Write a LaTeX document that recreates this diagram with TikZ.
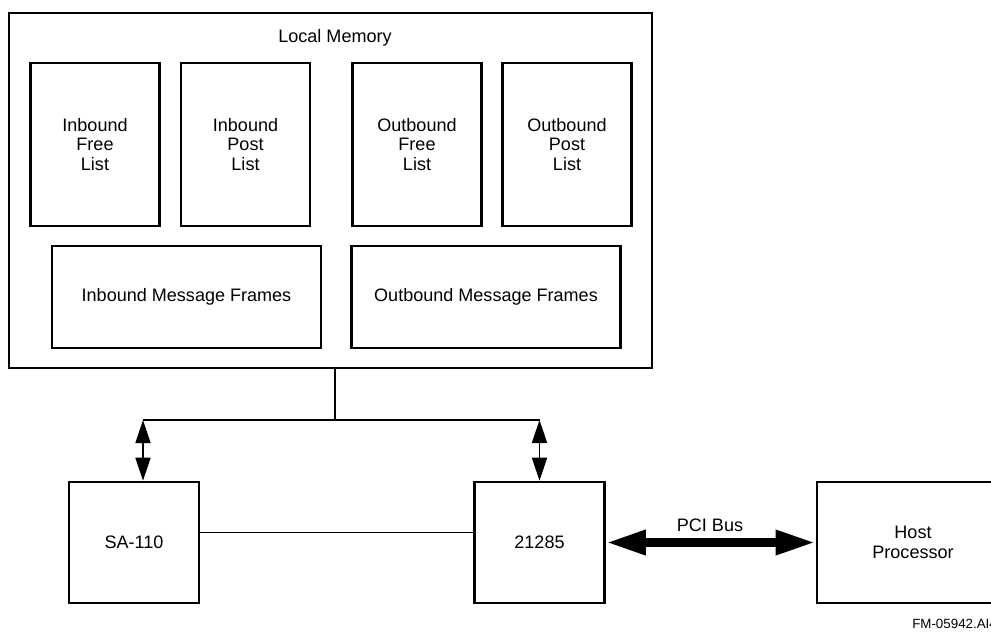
\documentclass[tikz,border=0pt]{standalone}
\usepackage{fontspec}
\setmainfont{Liberation Sans}
\usetikzlibrary{positioning,calc,arrows.meta}

\begin{document}
\begin{tikzpicture}[x=0.03cm,y=-0.03cm, font=\fontsize{15.4}{17}\selectfont, line join=miter]
	\useasboundingbox (0,0) rectangle (991,632);
	\clip (0,0) rectangle (991,632);

	% ===== styles =====
	\tikzset{
		blk/.style={draw, line width=2.2pt, align=center, inner sep=0pt},
		listbox/.style={blk, minimum width=3.87cm, minimum height=4.89cm},
		framebox/.style={blk, minimum width=8.06cm, minimum height=3.06cm},
		chipbox/.style={blk, minimum width=3.9cm, minimum height=3.63cm},
		wire/.style={line width=1.4pt},
		dbl/.style={line width=1.5pt, {Triangle[length=0.69cm,width=0.45cm]}-{Triangle[length=0.69cm,width=0.45cm]}},
		busarrow/.style={line width=7.7pt, {Triangle[length=1.2cm,width=0.69cm]}-{Triangle[length=1.2cm,width=0.69cm]}}
	}

	% ===== local memory =====
	\node[blk, minimum width=19.29cm, minimum height=10.65cm] (mem) at (330.5,190.5) {};
	\node (memlbl) at (335,38) {Local Memory};

	% ===== lists =====
	\node[listbox] (ifl) at (95,144.5) {Inbound\\Free\\List};
	\node[listbox] (ipl) at (245.5,144.5) {Inbound\\Post\\List};
	\node[listbox] (ofl) at (417,144.5) {Outbound\\Free\\List};
	\node[listbox] (opl) at (567,144.5) {Outbound\\Post\\List};

	% ===== message frames =====
	\node[framebox] (imf) at (186.5,297) {Inbound Message Frames};
	\node[framebox] (omf) at (486,297) {Outbound Message Frames};

	% ===== processors =====
	\node[chipbox] (sa) at (134,542.5) {SA-110};
	\node[chipbox] (chip) at (539.5,542.5) {21285};
	\node[blk, minimum width=5.76cm, minimum height=3.63cm] (host) at (913,542.5) {Host\\Processor};

	% ===== local bus =====
	\coordinate (tap) at (335,420);
	\coordinate (saport) at (143,420);
	\coordinate (chipport) at (539.5,420);
	\draw[wire] (mem.south -| tap) -- (tap);
	\draw[wire] (saport) -- (chipport);
	\draw[dbl] (saport) -- (saport |- sa.north);
	\draw[dbl] (chipport) -- (chip.north);
	\draw[wire] ($(sa.east)+(0,-10)$) -- ($(chip.west)+(0,-10)$);

	% ===== PCI bus =====
	\draw[busarrow] (chip.east) -- (host.west);
	\node (pcilbl) at (710,525) {PCI Bus};

	\node[font=\fontsize{11.4}{13}\selectfont, anchor=west, inner sep=0pt] (figid) at (912,624) {FM-05942.AI4};
\end{tikzpicture}
\end{document}
